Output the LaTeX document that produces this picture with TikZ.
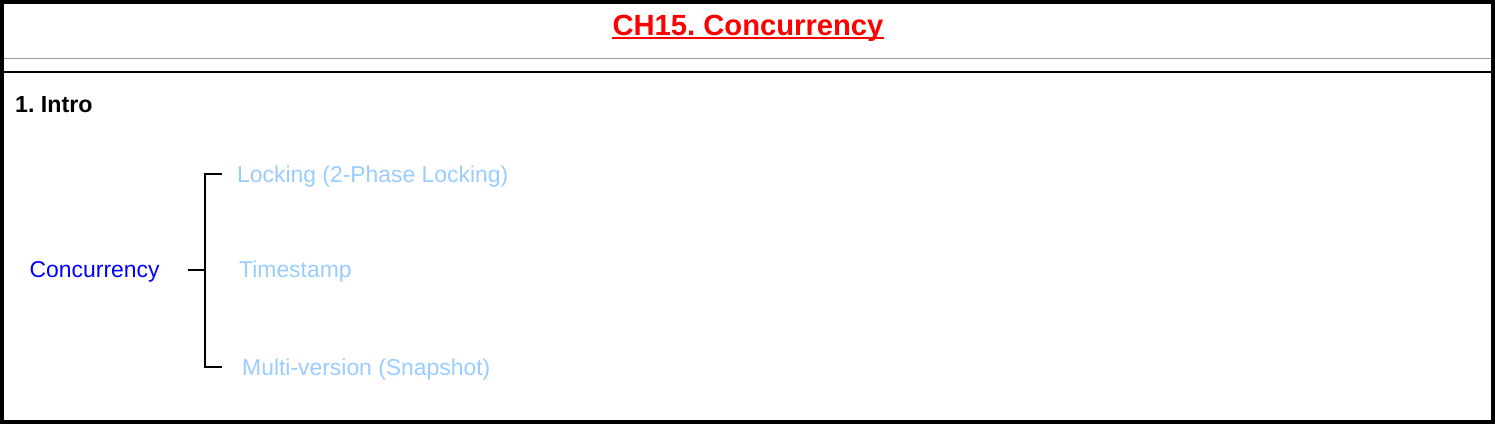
\documentclass[tikz,border=0pt]{standalone}
\usepackage{fontspec}
\setmainfont{Liberation Sans}
\usetikzlibrary{positioning}
\definecolor{titlered}{HTML}{FF0000}
\definecolor{rootblue}{HTML}{0000FF}
\definecolor{leafblue}{HTML}{99CCFF}
\definecolor{rulegray}{HTML}{9A9A9A}
\frenchspacing

\begin{document}
\begin{tikzpicture}[x=1pt,y=-1pt,
    label text/.style={inner sep=0pt, anchor=base west, font=\fontsize{22.9}{26}\selectfont},
    leaf/.style={label text, text=leafblue},
    bracket/.style={black, line width=1.8pt}]
    \useasboundingbox (0,0) rectangle (1495,424);

    % Outer frame and the two rules under the title
    \draw[line width=3.5pt] (1.75,1.75) rectangle (1493,422);
    \draw[rulegray, line width=1.2pt] (4,58.5) -- (1491,58.5);
    \draw[line width=2pt] (4,72) -- (1491,72);

    % Title
    \node[inner sep=0pt, anchor=base, text=titlered,
          font=\fontsize{29.2}{34}\selectfont\bfseries] (title) at (748,35) {CH15. Concurrency};
    \draw[titlered, line width=2pt] ([yshift=-2.8pt]title.base west) -- ([yshift=-2.8pt]title.base east);

    % Section heading
    \node[label text, font=\fontsize{23.2}{26}\selectfont\bfseries] (intro) at (15,112.5) {1. Intro};

    % Root and its three branches
    \node[label text, text=rootblue] (root) at (29.5,277.5) {Concurrency};
    \node[leaf] (locking) at (237,182) {Locking (2-Phase Locking)};
    \node[leaf] (timestamp) at (239,277.5) {Timestamp};
    \node[leaf] (multiversion) at (242,375.5) {Multi-version (Snapshot)};

    % Bracket
    \coordinate (stem) at (188,270);
    \coordinate (forkTop) at (205,174);
    \coordinate (forkBot) at (205,367);
    \draw[bracket] ([xshift=17pt]forkTop) -- (forkTop) -- (forkBot) -- ([xshift=17pt]forkBot);
    \draw[bracket] (stem) -- (stem -| forkTop);

\end{tikzpicture}
\end{document}
